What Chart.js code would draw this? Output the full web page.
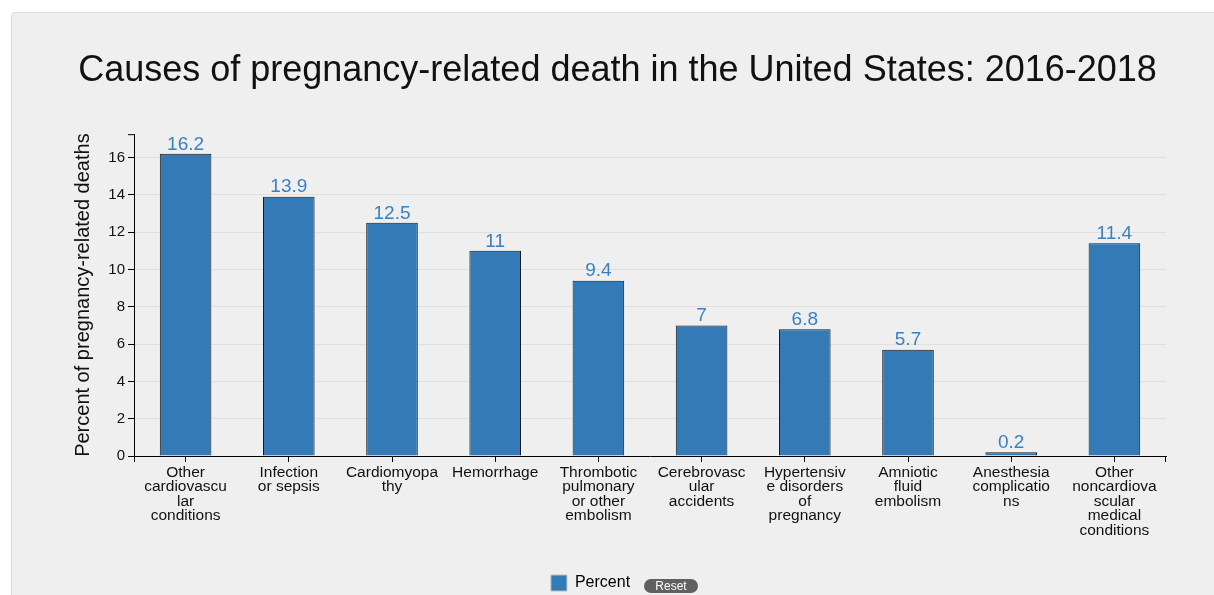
<!DOCTYPE html>
<html>
<head>
<meta charset="utf-8">
<title>Pregnancy-related deaths</title>
<script src="https://cdn.jsdelivr.net/npm/chart.js@4/dist/chart.umd.min.js"></script>
<style>
  html, body { margin: 0; padding: 0; background: #fff; overflow: hidden; width: 1214px; height: 595px; }
  #panel {
    position: absolute; left: 11px; top: 12px; width: 1240px; height: 640px;
    background: #efefef; border: 1px solid #dcdcdc; border-radius: 4px; box-sizing: border-box;
  }
  #wrap { position: absolute; left: 11px; top: 12px; width: 1216px; height: 589px; }
  #reset {
    position: absolute; left: 644px; top: 579px; width: 54px; height: 14px;
    background: #606060; color: #fff; border-radius: 7px;
    font: 12px "Liberation Sans", Arial, sans-serif; line-height: 14px; text-align: center;
  }
</style>
</head>
<body>
<div id="panel"></div>
<div id="wrap"><canvas id="chart"></canvas></div>
<div id="reset">Reset</div>
<script>
// --- Data ---
const causes = [
  ['Other', 'cardiovascu', 'lar', 'conditions'],
  ['Infection', 'or sepsis'],
  ['Cardiomyopa', 'thy'],
  ['Hemorrhage'],
  ['Thrombotic', 'pulmonary', 'or other', 'embolism'],
  ['Cerebrovasc', 'ular', 'accidents'],
  ['Hypertensiv', 'e disorders', 'of', 'pregnancy'],
  ['Amniotic', 'fluid', 'embolism'],
  ['Anesthesia', 'complicatio', 'ns'],
  ['Other', 'noncardiova', 'scular', 'medical', 'conditions'],
];
const percent = [16.2, 13.9, 12.5, 11, 9.4, 7, 6.8, 5.7, 0.2, 11.4];
const yTicks = [0, 2, 4, 6, 8, 10, 12, 14, 16];

const FONT = '"Liberation Sans", Arial, sans-serif';
const BAR = '#337ab7';

// value labels above each bar
const valueLabels = {
  id: 'valueLabels',
  afterDatasetsDraw(chart) {
    const ctx = chart.ctx;
    const meta = chart.getDatasetMeta(0);
    ctx.save();
    ctx.font = '19px ' + FONT;
    ctx.fillStyle = '#3a80c2';
    ctx.textAlign = 'center';
    ctx.textBaseline = 'bottom';
    meta.data.forEach((bar, i) => {
      ctx.fillText(String(percent[i]), bar.x, bar.y);
    });
    ctx.restore();
  }
};

// outer ticks at the ends of both axes
const outerTicks = {
  id: 'outerTicks',
  afterDraw(chart) {
    const { ctx, chartArea: a } = chart;
    ctx.save();
    ctx.strokeStyle = '#000';
    ctx.lineWidth = 1;
    ctx.beginPath();
    ctx.moveTo(a.left - 6, a.top + 0.5);
    ctx.lineTo(a.left, a.top + 0.5);
    ctx.moveTo(a.left + 0.5, a.bottom);
    ctx.lineTo(a.left + 0.5, a.bottom + 6);
    ctx.moveTo(a.right - 0.5, a.bottom);
    ctx.lineTo(a.right - 0.5, a.bottom + 6);
    ctx.stroke();
    ctx.restore();
  }
};

// legend sits a little left of centre, next to the reset button
const legendShift = {
  id: 'legendShift',
  afterLayout(chart) {
    chart.legend.left -= 27;
    chart.legend.right -= 27;
  }
};

new Chart(document.getElementById('chart'), {
  type: 'bar',
  data: {
    labels: causes,
    datasets: [{
      label: 'Percent',
      data: percent,
      backgroundColor: BAR,
      borderColor: '#1a1a1a',
      borderWidth: 1,
      categoryPercentage: 1,
      barPercentage: 0.5,
    }]
  },
  options: {
    responsive: true,
    maintainAspectRatio: false,
    animation: false,
    layout: { padding: { left: 58, right: 61, top: 0, bottom: 0 } },
    plugins: {
      title: {
        display: true,
        text: 'Causes of pregnancy-related death in the United States: 2016-2018',
        color: '#111',
        font: { family: FONT, size: 36, weight: 'normal', lineHeight: 1.2 },
        padding: { top: 37, bottom: 42 },
      },
      legend: {
        position: 'bottom',
        labels: {
          boxWidth: 16,
          boxHeight: 16,
          padding: 10,
          color: '#111',
          font: { family: FONT, size: 16 },
          generateLabels: () => [{
            text: 'Percent',
            fillStyle: BAR,
            strokeStyle: '#bdbdbd',
            lineWidth: 1,
            datasetIndex: 0,
          }],
        },
      },
      tooltip: { enabled: false },
    },
    scales: {
      x: {
        afterFit: s => { s.height = 109; },
        grid: { offset: false, drawOnChartArea: false, tickColor: '#000', tickLength: 6 },
        border: { color: '#000', width: 1 },
        ticks: {
          color: '#111', autoSkip: false, maxRotation: 0, padding: 3,
          font: { family: FONT, size: 15.5, lineHeight: 0.94 },
        },
      },
      y: {
        min: 0,
        max: 17.25,
        afterFit: s => { s.width = 65; },
        afterBuildTicks: s => { s.ticks = yTicks.map(v => ({ value: v })); },
        grid: { color: 'rgba(0,0,0,0.065)', tickColor: '#000', tickLength: 6 },
        border: { color: '#000', width: 1 },
        ticks: { color: '#111', padding: 3, font: { family: FONT, size: 15 } },
        title: {
          display: true,
          text: 'Percent of pregnancy-related deaths',
          color: '#111',
          padding: { top: 2, bottom: 0 },
          font: { family: FONT, size: 20, lineHeight: 1.2 },
        },
      },
    },
  },
  plugins: [valueLabels, outerTicks, legendShift],
});
</script>
</body>
</html>
